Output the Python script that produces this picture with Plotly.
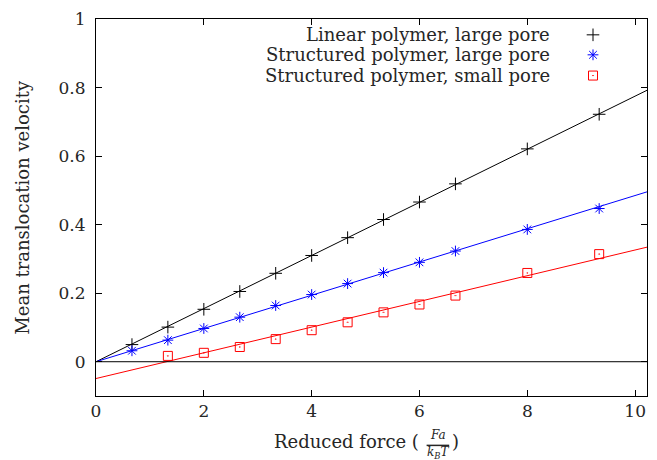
import plotly.graph_objects as go
import numpy as np

# Data
force = [0.667, 1.333, 2.0, 2.667, 3.333, 4.0, 4.667, 5.333, 6.0, 6.667, 8.0, 9.333]
linear_large = [0.050, 0.101, 0.153, 0.205, 0.258, 0.310, 0.362, 0.415, 0.466, 0.519, 0.621, 0.722]
struct_large = [0.032, 0.063, 0.097, 0.130, 0.164, 0.196, 0.228, 0.260, 0.290, 0.323, 0.386, 0.447]
force_small = [1.333, 2.0, 2.667, 3.333, 4.0, 4.667, 5.333, 6.0, 6.667, 8.0, 9.333]
struct_small = [0.017, 0.026, 0.043, 0.066, 0.092, 0.115, 0.144, 0.167, 0.193, 0.259, 0.314]

# Linear fit parameters (slope, intercept)
fit_linear_large = (0.0775, 0.0)
fit_struct_large = (0.0485, 0.0)
fit_struct_small = (0.0375, -0.049)

names = ["Linear polymer, large pore", "Structured polymer, large pore", "Structured polymer, small pore"]
colors = ["#000000", "#0000ff", "#ff0000"]

XMAX = 10.22
xl = np.array([0.0, XMAX])

FONT = "DejaVu Serif"
TXT = "#262626"

fig = go.Figure()

for (m, b), c in zip([fit_linear_large, fit_struct_large, fit_struct_small], colors):
    fig.add_trace(go.Scatter(x=xl, y=m * xl + b, mode="lines", line=dict(color=c, width=1),
                             showlegend=False, hoverinfo="skip"))

syms = ["cross-thin-open", "asterisk-open", "square-open-dot"]
sizes = [9, 9, 9]
for xs, ys, i in [(force, linear_large, 0), (force, struct_large, 1), (force_small, struct_small, 2)]:
    fig.add_trace(go.Scatter(x=xs, y=ys, mode="markers", name=names[i],
                             marker=dict(symbol=syms[i], size=sizes[i], color=colors[i],
                                         line=dict(color=colors[i], width=1)), showlegend=False))

# zero line
fig.add_trace(go.Scatter(x=[0, XMAX], y=[0, 0], mode="lines", line=dict(color="black", width=1),
                         showlegend=False, hoverinfo="skip"))

# Custom legend (text right-aligned, sample on the right), in an overlay axis
leg_y = [0.958, 0.905, 0.850]
for i in range(3):
    fig.add_trace(go.Scatter(x=[0.902], y=[leg_y[i]], xaxis="x2", yaxis="y2", mode="markers",
                             marker=dict(symbol=syms[i], size=sizes[i], color=colors[i],
                                         line=dict(color=colors[i], width=1)),
                             showlegend=False, hoverinfo="skip"))
    fig.add_annotation(x=0.828, y=leg_y[i], xref="paper", yref="paper", text=names[i],
                       showarrow=False, xanchor="right", yanchor="middle",
                       font=dict(family=FONT, size=18, color=TXT))

# y-axis title
fig.add_annotation(x=-0.134, y=0.5, xref="paper", yref="paper", text="Mean translocation velocity",
                   textangle=-90, showarrow=False, xanchor="center", yanchor="middle",
                   font=dict(family=FONT, size=18, color=TXT))

# x-axis title with fraction
fig.add_annotation(x=0.589, y=-0.122, xref="paper", yref="paper", text="Reduced force (",
                   showarrow=False, xanchor="right", yanchor="middle",
                   font=dict(family=FONT, size=18, color=TXT))
fig.add_annotation(x=0.620, y=-0.104, xref="paper", yref="paper", text="<i>Fa</i>",
                   showarrow=False, xanchor="center", yanchor="middle",
                   font=dict(family=FONT, size=12, color=TXT))
fig.add_annotation(x=0.620, y=-0.152, xref="paper", yref="paper", text="<i>k<sub>B</sub>T</i>",
                   showarrow=False, xanchor="center", yanchor="middle",
                   font=dict(family=FONT, size=12, color=TXT))
fig.add_annotation(x=0.643, y=-0.122, xref="paper", yref="paper", text=")",
                   showarrow=False, xanchor="left", yanchor="middle",
                   font=dict(family=FONT, size=18, color=TXT))
fig.add_shape(type="line", xref="paper", yref="paper", x0=0.600, x1=0.641, y0=-0.131, y1=-0.131,
              line=dict(color=TXT, width=1.5))

axis_common = dict(showline=True, linecolor="black", linewidth=1, mirror="ticks",
                   ticks="inside", ticklen=6, tickcolor="black", showgrid=False, zeroline=False,
                   tickfont=dict(family=FONT, size=17, color=TXT))

fig.update_layout(
    width=657, height=460,
    margin=dict(l=96, r=9, t=14, b=64),
    plot_bgcolor="white", paper_bgcolor="white",
    showlegend=False,
    xaxis=dict(range=[0, XMAX], tickvals=[0, 2, 4, 6, 8, 10], ticktext=["0", "2", "4", "6", "8", "10"],
               **axis_common),
    yaxis=dict(range=[-0.1, 1.0], tickvals=[0, 0.2, 0.4, 0.6, 0.8, 1.0],
               ticktext=["0", "0.2", "0.4", "0.6", "0.8", "1"], ticklabelstandoff=6,
               **axis_common),
    xaxis2=dict(overlaying="x", range=[0, 1], visible=False),
    yaxis2=dict(overlaying="y", range=[0, 1], visible=False),
)

fig.write_html("out.html")
